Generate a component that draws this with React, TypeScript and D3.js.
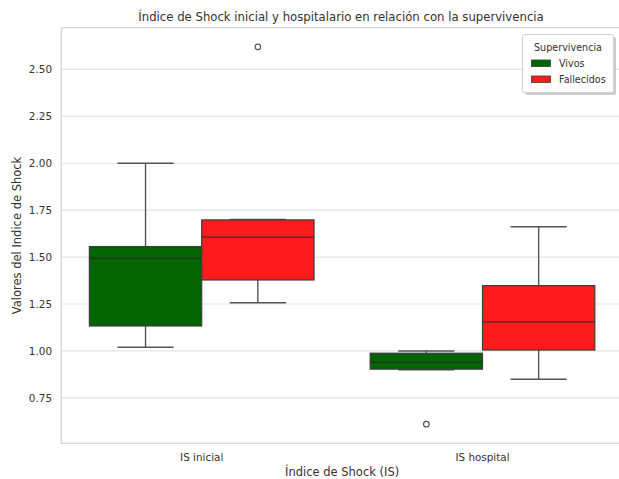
import React from "react";
import * as d3 from "d3";

const categories = ["IS inicial", "IS hospital"];
const hues = ["Vivos", "Fallecidos"];
const hueColors = ["#006400", "#fe1b1b"];
// [whiskerLow, q1, median, q3, whiskerHigh]
const vivosStats = [
  [1.02, 1.133, 1.495, 1.556, 2.0],
  [0.9, 0.903, 0.94, 0.988, 1.0],
];
const fallecidosStats = [
  [1.257, 1.378, 1.606, 1.698, 1.7],
  [0.849, 1.005, 1.155, 1.348, 1.662],
];
const vivosOutliers = [[], [0.61]];
const fallecidosOutliers = [[2.62], []];
const yTicks = [0.75, 1.0, 1.25, 1.5, 1.75, 2.0, 2.25, 2.5];

const W = 619;
const H = 479;
const left = 61.3;
const right = 622.9;
const top = 27.7;
const bottom = 443.3;

export default function App() {
  const x = d3.scaleLinear().domain([-0.5, 1.5]).range([left, right]);
  const y = d3.scaleLinear().domain([0.508, 2.722]).range([bottom, top]);
  const font = "DejaVu Sans, sans-serif";
  const stats = [vivosStats, fallecidosStats];
  const outs = [vivosOutliers, fallecidosOutliers];
  const boxW = 0.4;
  const lineCol = "#555555";

  return (
    <svg
      width={W}
      height={H}
      style={{ position: "absolute", left: 0, top: 0, background: "#fff" }}
      fontFamily={font}
    >
      <rect x={0} y={0} width={W} height={H} fill="#fff" />
      {yTicks.map((t) => (
        <g key={t}>
          <line x1={left} x2={right} y1={y(t)} y2={y(t)} stroke="#e3e3e3" strokeWidth={1.2} />
          <text x={52} y={y(t)} dy="0.35em" textAnchor="end" fontSize={10.4} fill="#333">
            {t.toFixed(2)}
          </text>
        </g>
      ))}
      <rect x={left} y={top} width={right - left} height={bottom - top} fill="none" stroke="#d6d6d6" strokeWidth={1.3} />
      {categories.map((c, ci) => (
        <g key={c}>
          {hues.map((h, hi) => {
            const s = stats[hi][ci];
            const cx = ci + (hi === 0 ? -0.2 : 0.2);
            const x0 = x(cx - boxW / 2);
            const x1 = x(cx + boxW / 2);
            const xc = x(cx);
            const capHalf = (x1 - x0) / 4;
            return (
              <g key={h}>
                <line x1={xc} x2={xc} y1={y(s[0])} y2={y(s[1])} stroke={lineCol} strokeWidth={1.4} />
                <line x1={xc} x2={xc} y1={y(s[3])} y2={y(s[4])} stroke={lineCol} strokeWidth={1.4} />
                <line x1={xc - capHalf} x2={xc + capHalf} y1={y(s[0])} y2={y(s[0])} stroke={lineCol} strokeWidth={1.4} />
                <line x1={xc - capHalf} x2={xc + capHalf} y1={y(s[4])} y2={y(s[4])} stroke={lineCol} strokeWidth={1.4} />
                <rect
                  x={x0}
                  y={y(s[3])}
                  width={x1 - x0}
                  height={y(s[1]) - y(s[3])}
                  fill={hueColors[hi]}
                  stroke="#3c3c3c"
                  strokeWidth={1.2}
                />
                <line x1={x0} x2={x1} y1={y(s[2])} y2={y(s[2])} stroke="#2a2a2a" strokeOpacity={0.85} strokeWidth={1.3} />
                {outs[hi][ci].map((o, oi) => (
                  <circle key={oi} cx={xc} cy={y(o)} r={2.8} fill="none" stroke={lineCol} strokeWidth={1.2} />
                ))}
              </g>
            );
          })}
          <text x={x(ci)} y={457} dy="0.35em" textAnchor="middle" fontSize={10.4} fill="#333">
            {c}
          </text>
        </g>
      ))}
      <text x={(left + right) / 2} y={472} dy="0.35em" textAnchor="middle" fontSize={11.5} fill="#333">
        Índice de Shock (IS)
      </text>
      <text
        transform={`translate(17,${(top + bottom) / 2}) rotate(-90)`}
        dy="0.35em"
        textAnchor="middle"
        fontSize={11.5}
        fill="#333"
      >
        Valores del Indice de Shock
      </text>
      <text x={341} y={17} dy="0.35em" textAnchor="middle" fontSize={11.7} fill="#333">
        Índice de Shock inicial y hospitalario en relación con la supervivencia
      </text>
      {/* legend */}
      <g>
        <rect x={525} y={37} width={91} height={58} rx={2} fill="#999" opacity={0.5} />
        <rect x={522.5} y={34.5} width={91} height={58} rx={2} fill="#fff" stroke="#d0d0d0" strokeWidth={1} />
        <text x={568} y={47.5} dy="0.35em" textAnchor="middle" fontSize={9.6} fill="#333">
          Supervivencia
        </text>
        {hues.map((h, i) => (
          <g key={h}>
            <rect x={531.5} y={60 + i * 16} width={19} height={6.5} fill={hueColors[i]} stroke="#3c3c3c" strokeWidth={0.8} />
            <text x={559} y={63.3 + i * 16} dy="0.35em" fontSize={9.6} fill="#333">
              {h}
            </text>
          </g>
        ))}
      </g>
    </svg>
  );
}
